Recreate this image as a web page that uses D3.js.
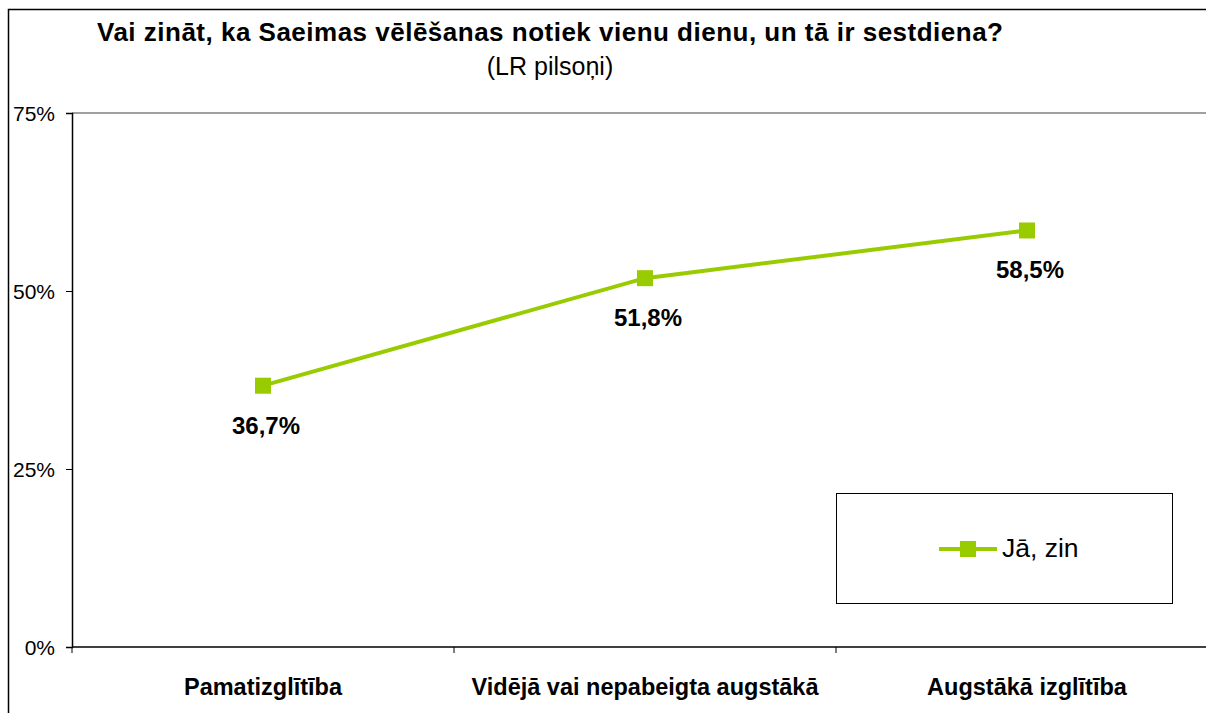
<!DOCTYPE html>
<html>
<head>
<meta charset="utf-8">
<script src="https://cdn.jsdelivr.net/npm/d3@7"></script>
<style>
  body { margin: 0; background: #fff; }
  svg { display: block; font-family: 'Liberation Sans', Arial, sans-serif; }
</style>
</head>
<body>
<div id="chart"><svg width="1206" height="713"></svg></div>
<script>
const categories = ['Pamatizglītība', 'Vidējā vai nepabeigta augstākā', 'Augstākā izglītība'];
const values = [36.7, 51.8, 58.5];
const valueLabels = ['36,7%', '51,8%', '58,5%'];
const yTicks = [0, 25, 50, 75];
const seriesName = 'Jā, zin';

const GREEN = '#99cc00';
const SVG = d3.select('#chart svg');

// outer chart frame (cut off at right and bottom)
SVG.append('path')
  .attr('d', 'M8.5,713 L8.5,9.5 L1206,9.5')
  .style('fill', 'none')
  .style('stroke', '#000')
  .style('stroke-width', 1.5);

SVG.append('text')
  .text('Vai zināt, ka Saeimas vēlēšanas notiek vienu dienu, un tā ir sestdiena?')
  .attr('x', 550).attr('y', 41)
  .attr('textLength', 906)
  .attr('lengthAdjust', 'spacing')
  .style('text-anchor', 'middle')
  .style('font-size', '26px')
  .style('font-weight', 'bold');

SVG.append('text')
  .text('(LR pilsoņi)')
  .attr('x', 550).attr('y', 75)
  .style('text-anchor', 'middle')
  .style('font-size', '25px');

const LEFT = 72, TOP = 113, BOTTOM = 647, STEP = 382;

const X_SCALE = d3.scaleBand()
  .domain(categories)
  .range([LEFT, LEFT + STEP * categories.length])
  .padding(0);

const Y_SCALE = d3.scaleLinear()
  .domain([0, 75])
  .range([BOTTOM, TOP]);

// top border of plot area
SVG.append('line')
  .attr('x1', LEFT).attr('x2', 1206)
  .attr('y1', Y_SCALE(75)).attr('y2', Y_SCALE(75))
  .style('stroke', '#808080')
  .style('stroke-width', 1.5);

// y axis
const Y_AXIS = d3.axisLeft(Y_SCALE)
  .tickValues(yTicks)
  .tickFormat(d => d + '%')
  .tickSize(6)
  .tickPadding(11);
const Y_AXIS_G = SVG.append('g')
  .attr('transform', `translate(${LEFT},0)`)
  .call(Y_AXIS);
Y_AXIS_G.select('.domain').style('stroke', '#000').style('stroke-width', 1.5);
Y_AXIS_G.selectAll('.tick line').style('stroke', '#000');
Y_AXIS_G.selectAll('.tick text')
  .style('font-size', '21px')
  .style('font-family', "'Liberation Sans', Arial, sans-serif")
  .attr('dy', '0.36em');

// x axis
const X_AXIS_G = SVG.append('g')
  .attr('transform', `translate(0,${BOTTOM})`);
X_AXIS_G.append('line')
  .attr('x1', LEFT).attr('x2', 1206)
  .style('stroke', '#000')
  .style('stroke-width', 1.5);
X_AXIS_G.selectAll('.tickMark')
  .data(categories)
  .join('line')
  .attr('class', 'tickMark')
  .attr('x1', d => X_SCALE(d)).attr('x2', d => X_SCALE(d))
  .attr('y1', 0).attr('y2', 6)
  .style('stroke', '#000');
X_AXIS_G.selectAll('.catLabel')
  .data(categories)
  .join('text')
  .attr('class', 'catLabel')
  .text(d => d)
  .attr('x', d => X_SCALE(d) + X_SCALE.bandwidth() / 2)
  .attr('y', 48)
  .style('text-anchor', 'middle')
  .style('font-size', '23.5px')
  .style('font-weight', 'bold');

const data = categories.map((c, i) => ({ cat: c, value: values[i], label: valueLabels[i] }));
const xPos = d => X_SCALE(d.cat) + X_SCALE.bandwidth() / 2;

SVG.append('path')
  .datum(data)
  .attr('d', d3.line().x(xPos).y(d => Y_SCALE(d.value)))
  .style('fill', 'none')
  .style('stroke', GREEN)
  .style('stroke-width', 4);

SVG.selectAll('.marker')
  .data(data)
  .join('rect')
  .attr('class', 'marker')
  .attr('x', d => xPos(d) - 8)
  .attr('y', d => Y_SCALE(d.value) - 8)
  .attr('width', 16).attr('height', 16)
  .style('fill', GREEN);

SVG.selectAll('.valLabel')
  .data(data)
  .join('text')
  .attr('class', 'valLabel')
  .text(d => d.label)
  .attr('x', d => xPos(d) + 3)
  .attr('y', d => Y_SCALE(d.value) + 48)
  .style('text-anchor', 'middle')
  .style('font-size', '24px')
  .style('font-weight', 'bold');

// legend
const LEGEND = SVG.append('g').attr('transform', 'translate(836,493)');
LEGEND.append('rect')
  .attr('x', 0.5).attr('y', 0.5)
  .attr('width', 336).attr('height', 110)
  .style('fill', '#fff')
  .style('stroke', '#000');
LEGEND.append('line')
  .attr('x1', 103).attr('x2', 161)
  .attr('y1', 56).attr('y2', 56)
  .style('stroke', GREEN)
  .style('stroke-width', 4);
LEGEND.append('rect')
  .attr('x', 132 - 8).attr('y', 56 - 8)
  .attr('width', 16).attr('height', 16)
  .style('fill', GREEN);
LEGEND.append('text')
  .text(seriesName)
  .attr('x', 166).attr('y', 64)
  .style('font-size', '26.5px');
</script>
</body>
</html>
